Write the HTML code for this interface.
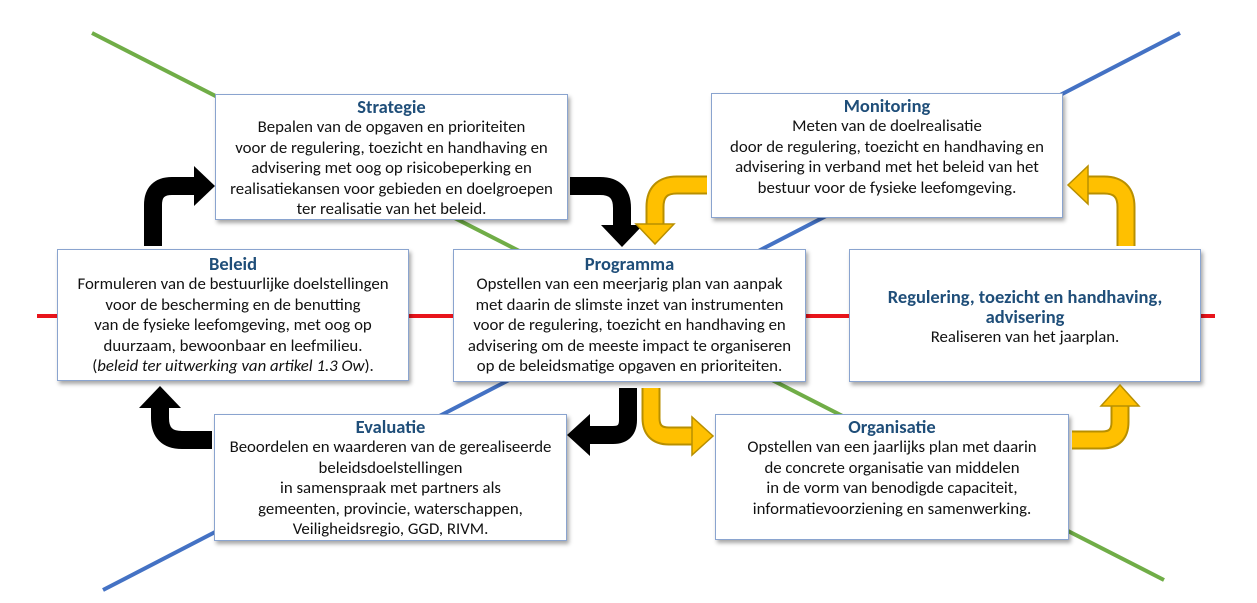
<!DOCTYPE html>
<html><head><meta charset="utf-8"><style>
html,body{margin:0;padding:0;background:#fff;}
#c{position:relative;width:1257px;height:603px;overflow:hidden;font-family:"Carlito","Liberation Sans",sans-serif;}
svg{position:absolute;left:0;top:0;}
.b{position:absolute;background:#fff;border:1px solid #8aa4cf;box-shadow:2px 3px 4px rgba(0,0,0,0.35);text-align:center;font-size:16.8px;line-height:20.5px;color:#111;box-sizing:border-box;white-space:nowrap;}
.b h{display:block;color:#1f4e79;font-weight:bold;font-size:18.5px;line-height:20px;}
</style></head><body><div id="c">
<svg width="1257" height="603">
<line x1="37" y1="316" x2="1215" y2="316" stroke="#e8141b" stroke-width="4"/>
<line x1="92" y1="33" x2="1164" y2="580" stroke="#70ad47" stroke-width="4"/>
<line x1="1180" y1="33" x2="103" y2="590" stroke="#4472c4" stroke-width="4"/>
</svg>
<div class="b" style="left:215px;top:94px;width:353px;height:126px;padding-top:2px"><h>Strategie</h>Bepalen van de opgaven en prioriteiten<br>voor de regulering, toezicht en handhaving en<br>advisering met oog op risicobeperking en<br>realisatiekansen voor gebieden en doelgroepen<br>ter realisatie van het beleid.</div>
<div class="b" style="left:711px;top:93px;width:352px;height:125px;padding-top:2px"><h>Monitoring</h>Meten van de doelrealisatie<br>door de regulering, toezicht en handhaving en<br>advisering in verband met het beleid van het<br>bestuur voor de fysieke leefomgeving.</div>
<div class="b" style="left:57px;top:249px;width:352px;height:132px;padding-top:4px"><h>Beleid</h>Formuleren van de bestuurlijke doelstellingen<br>voor de bescherming en de benutting<br>van de fysieke leefomgeving, met oog op<br>duurzaam, bewoonbaar en leefmilieu.<br>(<i>beleid ter uitwerking van artikel 1.3 Ow</i>).</div>
<div class="b" style="left:453px;top:249px;width:353px;height:133px;padding-top:4px"><h>Programma</h>Opstellen van een meerjarig plan van aanpak<br>met daarin de slimste inzet van instrumenten<br>voor de regulering, toezicht en handhaving en<br>advisering om de meeste impact te organiseren<br>op de beleidsmatige opgaven en prioriteiten.</div>
<div class="b" style="left:849px;top:249px;width:352px;height:133px;padding-top:37px"><h>Regulering, toezicht en handhaving,<br>advisering</h>Realiseren van het jaarplan.</div>
<div class="b" style="left:214px;top:414px;width:353px;height:127px;padding-top:2px"><h>Evaluatie</h>Beoordelen en waarderen van de gerealiseerde<br>beleidsdoelstellingen<br>in samenspraak met partners als<br>gemeenten, provincie, waterschappen,<br>Veiligheidsregio, GGD, RIVM.</div>
<div class="b" style="left:715px;top:414px;width:354px;height:126px;padding-top:2px"><h>Organisatie</h>Opstellen van een jaarlijks plan met daarin<br>de concrete organisatie van middelen<br>in de vorm van benodigde capaciteit,<br>informatievoorziening en samenwerking.</div>
<svg width="1257" height="603">
<g fill="none" stroke-linejoin="round">
<path d="M153 246 V205 Q153 186 172 186 H196" stroke="#000" stroke-width="18"/>
<path d="M570 186 H600 Q622 186 622 208 V228" stroke="#000" stroke-width="18"/>
<path d="M628 388 V420 Q628 435 613 435 H588" stroke="#000" stroke-width="18"/>
<path d="M212 440 H182 Q160 440 160 418 V406" stroke="#000" stroke-width="18"/>
<path d="M707 185 H677 Q655 185 655 207 V226" stroke="#b88f00" stroke-width="19"/>
<path d="M707 185 H677 Q655 185 655 207 V226" stroke="#ffc000" stroke-width="15"/>
<path d="M1126 246 V207 Q1126 185 1104 185 H1086" stroke="#b88f00" stroke-width="19"/>
<path d="M1126 246 V207 Q1126 185 1104 185 H1086" stroke="#ffc000" stroke-width="15"/>
<path d="M651 388 V418 Q651 436 669 436 H694" stroke="#b88f00" stroke-width="19"/>
<path d="M651 388 V418 Q651 436 669 436 H694" stroke="#ffc000" stroke-width="15"/>
<path d="M1072 440 H1102 Q1120 440 1120 422 V404" stroke="#b88f00" stroke-width="19"/>
<path d="M1072 440 H1102 Q1120 440 1120 422 V404" stroke="#ffc000" stroke-width="15"/>
</g>
<polygon points="194,166 215,186 194,206" fill="#000"/>
<polygon points="601,225 643,225 622,247" fill="#000"/>
<polygon points="590,414 590,456 567,435" fill="#000"/>
<polygon points="139,408 181,408 160,386" fill="#000"/>
<polygon points="636,224 674,224 655,244" fill="#ffc000" stroke="#b88f00" stroke-width="1.5"/>
<polygon points="1088,166 1088,204 1068,185" fill="#ffc000" stroke="#b88f00" stroke-width="1.5"/>
<polygon points="692,417 692,455 713,436" fill="#ffc000" stroke="#b88f00" stroke-width="1.5"/>
<polygon points="1101,406 1139,406 1120,385" fill="#ffc000" stroke="#b88f00" stroke-width="1.5"/>
</svg>
</div></body></html>
